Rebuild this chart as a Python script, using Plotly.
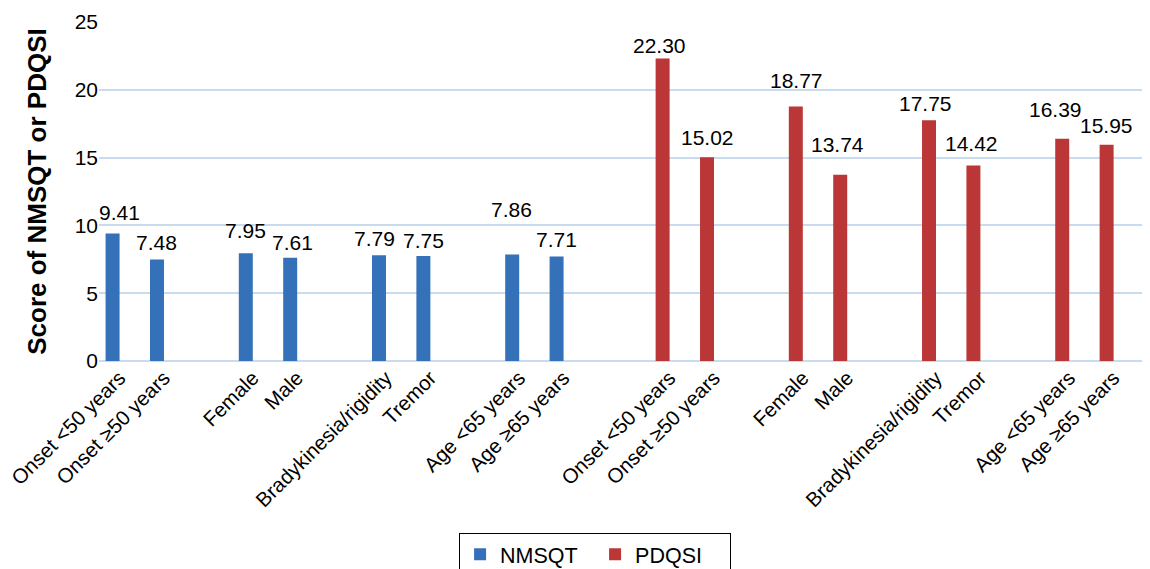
import plotly.graph_objects as go

categories = ["Onset <50 years", "Onset \u226550 years", "Female", "Male",
              "Bradykinesia/rigidity", "Tremor", "Age <65 years", "Age \u226565 years"]
nmsqt = [9.41, 7.48, 7.95, 7.61, 7.79, 7.75, 7.86, 7.71]
pdqsi = [22.30, 15.02, 18.77, 13.74, 17.75, 14.42, 16.39, 15.95]

# manual nudges (pixels) of the value labels, as in the source chart
nmsqt_label_dx = [7, 0, 0, 2, -4, 0, -1, 0]
nmsqt_label_dy = [13, 10, 15, 8, 9, 8, 37, 9]
pdqsi_label_dx = [-3, 0, 1, -3, -4, -2, -7, 0]
pdqsi_label_dy = [6, 12, 18, 23, 9, 14, 22, 12]

# slot layout: pairs separated by one empty slot; PDQSI block after NMSQT block
def slots(start):
    return [start + (i // 2) * 3 + (i % 2) for i in range(len(categories))]

half_slot = 0.194   # group offset of each series from its category centre
bar_w = 0.315

x_blue = [s - half_slot for s in slots(0)]
x_red = [s + half_slot for s in slots(12)]

font_family = "Arial, Liberation Sans, sans-serif"

fig = go.Figure()
fig.add_trace(go.Bar(
    x=x_blue, y=nmsqt, name="NMSQT", width=bar_w,
    marker=dict(color="#3571b9", line=dict(width=0)),
))
fig.add_trace(go.Bar(
    x=x_red, y=pdqsi, name="PDQSI", width=bar_w,
    marker=dict(color="#bb3737", line=dict(width=0)),
))

for xs, vals, dxs, dys in [(x_blue, nmsqt, nmsqt_label_dx, nmsqt_label_dy),
                           (x_red, pdqsi, pdqsi_label_dx, pdqsi_label_dy)]:
    for x, v, dx, dy in zip(xs, vals, dxs, dys):
        fig.add_annotation(
            x=x, y=v, xref="x", yref="y", text=f"{v:.2f}", showarrow=False,
            xanchor="center", yanchor="bottom", xshift=dx, yshift=dy - 6,
            font=dict(size=21, color="black", family=font_family),
        )

fig.update_layout(
    width=1142, height=561,
    margin=dict(l=91, r=0, t=14, b=208, autoexpand=False),
    barmode="overlay",
    plot_bgcolor="white", paper_bgcolor="white",
    font=dict(family=font_family, size=21, color="black"),
    showlegend=True,
    legend=dict(orientation="h", x=0.472, xanchor="center", y=-0.507, yanchor="top",
                bordercolor="black", borderwidth=1,
                font=dict(size=21.5, color="black", family=font_family),
                itemwidth=30, entrywidth=90, entrywidthmode="pixels"),
)
fig.update_xaxes(
    range=[-0.5, -0.5 + 1051 / 44.4],
    tickmode="array", tickvals=x_blue + x_red, ticktext=categories + categories,
    tickangle=-45, tickfont=dict(size=20.5, color="black"),
    ticklabeloverflow="allow", ticklabelshift=7,
    showgrid=False, zeroline=False, showline=False, ticks="",
    automargin=False,
)
fig.update_yaxes(
    range=[0, 25], dtick=5, tick0=0,
    showgrid=True, gridcolor="#c9dbef", gridwidth=1.5,
    zeroline=True, zerolinecolor="#c9dbef", zerolinewidth=1.5,
    showline=False, ticks="",
    tickfont=dict(size=21, color="black"),
    title=dict(text="<b>Score of NMSQT or PDQSI</b>", font=dict(size=26, color="black"), standoff=20),
    automargin=False,
)

fig.write_html("out.html")
